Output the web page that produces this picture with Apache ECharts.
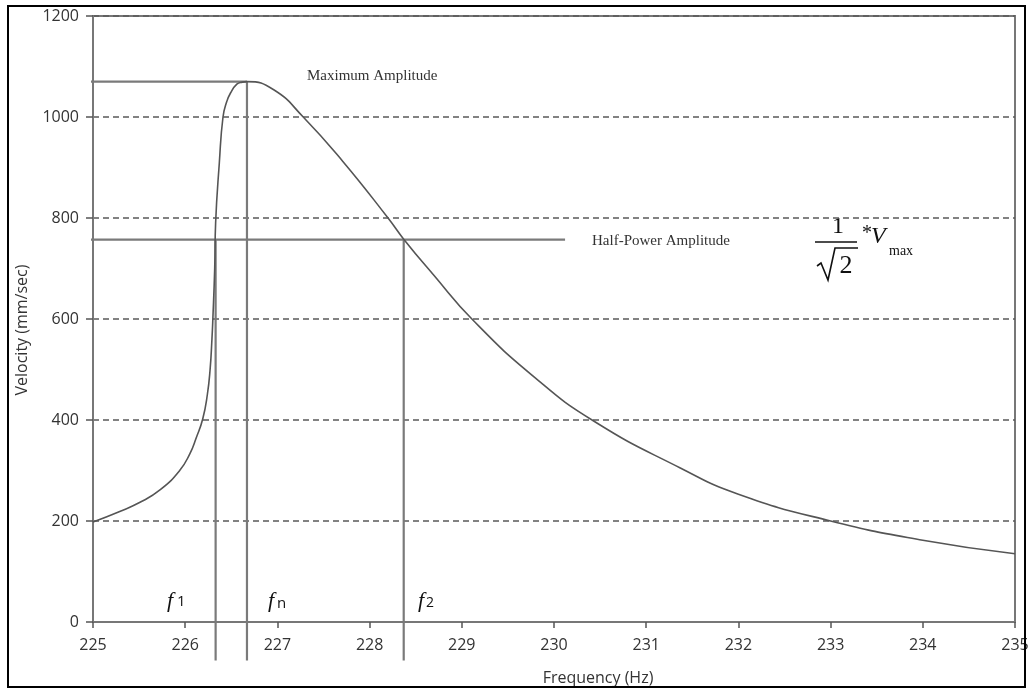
<!DOCTYPE html>
<html>
<head>
<meta charset="utf-8">
<style>
html,body{margin:0;padding:0;background:#fff;}
#chart{width:1034px;height:688px;}
</style>
<script src="https://cdn.jsdelivr.net/npm/echarts@6/dist/echarts.min.js"></script>
</head>
<body>
<div id="chart"></div>
<script>
// ---- data ----
const freq = [225.00, 225.29, 225.51, 225.73, 225.94, 226.05, 226.12, 226.19, 226.24, 226.27, 226.29, 226.30, 226.32, 226.33, 226.37, 226.41, 226.45, 226.49, 226.56, 226.62, 226.67, 226.96, 227.28, 227.71, 228.20, 228.37, 228.69, 229.12, 229.78, 230.43, 231.37, 232.00, 233.00, 234.00, 235.00];
const velocity = [198, 219, 237, 262, 300, 333, 365, 402, 450, 500, 560, 600, 700, 790, 909, 1000, 1030, 1047, 1065, 1069, 1070, 1054, 1000, 912, 800, 758, 688, 598, 486, 398, 305, 253, 200, 162, 135];

const xTicks = [225, 226, 227, 228, 229, 230, 231, 232, 233, 234, 235];
const yTicks = [0, 200, 400, 600, 800, 1000, 1200];

const vMax = 1070;
const vHalf = 757;
const fOne = 226.33;
const fNat = 226.67;
const fTwo = 228.37;
// guide-line extents (data units) reaching past the axes
const guideStartX = 224.8;
const halfLineEndX = 230.12;
const guideBottomY = -76;

const chart = echarts.init(document.getElementById('chart'), null, {renderer: 'canvas'});

const guideStyle = {color: '#7a7a7a', width: 2.2};
function guide(data) {
  return {type: 'line', data: data, clip: false, symbol: 'none', silent: true,
          lineStyle: guideStyle, z: 3, animation: false};
}

const axisFont = {fontFamily: 'Open Sans', fontSize: 16, color: '#333'};

const serif = 'Liberation Serif';
const ink = '#111';
function txt(x, y, text, size, extra) {
  return {type: 'text', x: x, y: y, style: Object.assign({text: text, fontFamily: serif, fontSize: size,
    fill: ink, textVerticalAlign: 'middle'}, extra || {})};
}

chart.setOption({
  backgroundColor: '#ffffff',
  animation: false,
  grid: {left: 93, right: 19, top: 16, bottom: 66, show: true, borderColor: '#777', borderWidth: 2},
  xAxis: {
    type: 'value', min: xTicks[0], max: xTicks[xTicks.length - 1], interval: 1,
    axisLine: {show: true, lineStyle: {color: '#777', width: 2}},
    axisTick: {show: true, length: 6, lineStyle: {color: '#555', width: 1.5}},
    axisLabel: Object.assign({margin: 15, formatter: v => String(v)}, axisFont),
    splitLine: {show: false}
  },
  yAxis: {
    type: 'value', min: yTicks[0], max: yTicks[yTicks.length - 1], interval: 200,
    axisLine: {show: true, lineStyle: {color: '#777', width: 2}},
    axisTick: {show: true, length: 7, lineStyle: {color: '#555', width: 1.5}},
    axisLabel: Object.assign({margin: 14, formatter: v => String(v)}, axisFont),
    splitLine: {show: true, lineStyle: {color: '#5a5a5a', width: 1.5, type: [6, 4]}}
  },
  series: [
    {type: 'line', data: freq.map((f, i) => [f, velocity[i]]), symbol: 'none',
     smooth: 0.5, lineStyle: {color: '#555', width: 1.6}, z: 4},
    guide([[guideStartX, vMax], [fNat, vMax]]),
    guide([[guideStartX, vHalf], [halfLineEndX, vHalf]]),
    guide([[fOne, vHalf], [fOne, guideBottomY]]),
    guide([[fNat, vMax], [fNat, guideBottomY]]),
    guide([[fTwo, vHalf], [fTwo, guideBottomY]])
  ],
  graphic: [
    {type: 'rect', shape: {x: 8, y: 6, width: 1017, height: 681},
     style: {fill: 'none', stroke: '#000', lineWidth: 2}, z: 10},
    {type: 'text', x: 598, y: 678, style: {text: 'Frequency (Hz)', fontFamily: 'Open Sans', fontSize: 16,
      fill: '#333', textAlign: 'center', textVerticalAlign: 'middle'}},
    {type: 'text', x: 22, y: 330, rotation: Math.PI / 2, style: {text: 'Velocity (mm/sec)', fontFamily: 'Open Sans', fontSize: 16,
      fill: '#333', textAlign: 'center', textVerticalAlign: 'middle'}},
    txt(307, 76, 'Maximum Amplitude', 15, {fill: '#333'}),
    txt(592, 241, 'Half-Power Amplitude', 15, {fill: '#333'}),
    // formula 1/sqrt(2) * Vmax
    txt(838, 227, '1', 24, {textAlign: 'center'}),
    {type: 'line', shape: {x1: 815, y1: 242, x2: 857, y2: 242}, style: {stroke: ink, lineWidth: 1.5}},
    {type: 'polyline', shape: {points: [[817, 266], [821, 263], [828, 280], [835, 248], [858, 248]]},
     style: {stroke: ink, lineWidth: 1.6, fill: 'none'}},
    txt(846, 266, '2', 26, {textAlign: 'center'}),
    txt(862, 234, '*', 20),
    txt(871, 237, 'V', 24, {fontStyle: 'italic'}),
    txt(889, 251, 'max', 14),
    // frequency markers
    txt(167, 601, 'f', 22, {fontStyle: 'italic'}),
    txt(177, 602, '1', 15, {fontFamily: 'Open Sans'}),
    txt(268, 601, 'f', 22, {fontStyle: 'italic'}),
    txt(277, 604, 'n', 15, {fontFamily: 'Open Sans'}),
    txt(418, 601, 'f', 22, {fontStyle: 'italic'}),
    txt(426, 603, '2', 14, {fontFamily: 'Open Sans'})
  ]
});
</script>
</body>
</html>
